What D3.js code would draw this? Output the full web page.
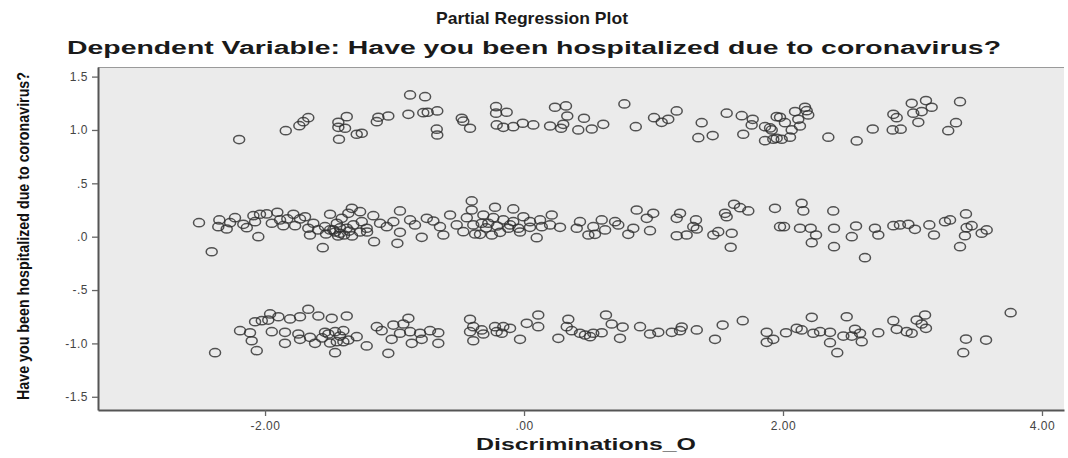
<!DOCTYPE html>
<html>
<head>
<meta charset="utf-8">
<script src="https://cdn.jsdelivr.net/npm/d3@7"></script>
<style>
  html, body { margin: 0; padding: 0; background: #ffffff; }
  svg { display: block; }
</style>
</head>
<body>
<svg id="chart" width="1068" height="458"></svg>
<script>
// ---------- DATA ----------
const chartTitle = "Partial Regression Plot";
const chartSubtitle = "Dependent Variable: Have you been hospitalized due to coronavirus?";
const xAxisLabel = "Discriminations_O";
const yAxisLabel = "Have you been hospitalized due to coronavirus?";

const xTicks = [-2, 0, 2, 4];
const xTickLabels = ["-2.00", ".00", "2.00", "4.00"];
const yTicks = [1.5, 1.0, 0.5, 0.0, -0.5, -1.0, -1.5];
const yTickLabels = ["1.5", "1.0", ".5", ".0", "-.5", "-1.0", "-1.5"];

// Band near +1 (hospitalized = yes residuals)
const upperX = [-2.20,-1.84,-1.735,-1.704,-1.666,-1.434,-1.434,-1.382,-1.369,-1.429,-1.292,-1.253,-1.137,-1.125,-1.048,-0.880,-0.764,-0.893,-0.778,-0.744,-0.670,-0.674,-0.670,-0.481,-0.469,-0.417,-0.216,-0.216,-0.134,-0.211,-0.160,-0.083,-0.010,0.072,0.201,0.239,0.324,0.334,0.303,0.286,0.419,0.463,0.523,0.612,0.775,0.863,1.004,1.063,1.114,1.179,1.372,1.346,1.457,1.565,1.681,1.693,1.766,1.758,1.861,1.913,1.861,1.951,1.951,1.900,1.977,1.925,1.990,2.054,2.015,2.067,2.093,2.118,2.131,2.170,2.183,2.195,2.350,2.569,2.693,2.852,2.878,2.847,2.909,2.994,3.104,3.006,3.071,3.148,3.045,3.276,3.336,3.367];
const upperY = [0.91,0.993,1.040,1.078,1.115,1.072,1.025,1.016,1.125,0.913,0.960,0.969,1.078,1.119,1.131,1.328,1.312,1.147,1.162,1.166,1.178,1.007,0.953,1.110,1.082,1.016,1.218,1.157,1.166,1.047,1.025,1.031,1.063,1.047,1.037,1.213,1.225,1.131,1.053,1.016,1.000,1.110,1.009,1.053,1.244,1.031,1.115,1.072,1.100,1.178,1.068,0.928,0.947,1.157,1.134,0.960,1.100,1.047,1.031,1.000,0.900,0.922,1.125,1.019,1.119,0.913,0.913,0.932,1.068,1.000,1.172,1.100,1.037,1.213,1.181,1.141,0.932,0.897,1.009,1.147,1.115,1.000,1.007,1.250,1.275,1.157,1.172,1.213,1.072,0.993,1.068,1.265];

// Band near 0
const middleX = [-2.510,-2.412,-2.353,-2.361,-2.296,-2.270,-2.232,-2.168,-2.141,-2.090,-2.077,-2.052,-2.039,-1.987,-1.948,-1.905,-1.884,-1.859,-1.828,-1.781,-1.768,-1.730,-1.691,-1.666,-1.653,-1.627,-1.554,-1.537,-1.498,-1.473,-1.446,-1.421,-1.408,-1.357,-1.330,-1.266,-1.369,-1.318,-1.253,-1.215,-1.164,-1.158,-1.112,-1.060,-1.009,-0.978,-0.958,-0.958,-0.880,-0.842,-0.790,-0.751,-0.700,-0.623,-0.649,-0.571,-0.520,-0.469,-0.442,-0.404,-0.404,-0.392,-0.378,-1.498,-1.459,-1.421,-1.390,-1.351,-1.436,-1.328,-1.529,-1.591,-1.266,-1.212,
  -0.224,-0.083,-0.314,-0.237,-0.327,-0.276,-0.160,-0.083,-0.005,0.046,0.124,0.214,-0.340,-0.249,-0.185,-0.121,-0.044,0.046,0.098,0.137,0.201,0.278,0.407,0.432,0.497,0.548,0.535,0.600,0.626,0.703,0.728,0.805,0.844,0.870,0.948,0.998,0.973,1.179,1.205,1.179,1.256,1.307,1.328,1.334,1.462,1.500,1.552,1.565,1.604,1.596,1.622,1.668,1.732,1.938,1.977,-0.293,-0.108,-0.031,-0.208,
  2.144,2.157,2.388,2.008,2.131,2.214,2.255,2.222,2.394,2.394,2.531,2.564,2.633,2.710,2.736,2.852,2.903,2.968,3.019,3.130,3.166,3.251,3.290,3.413,3.418,3.457,3.405,3.367,3.534,3.573];
const middleY = [0.131,-0.141,0.157,0.094,0.072,0.131,0.178,0.116,0.084,0.197,0.141,0.000,0.210,0.213,0.126,0.229,0.157,0.103,0.166,0.210,0.103,0.166,0.187,0.079,0.016,0.126,-0.103,0.094,0.210,0.063,0.126,0.032,0.172,0.219,0.266,0.234,0.079,0.110,0.141,0.079,0.197,-0.047,0.126,0.094,0.141,-0.062,0.241,0.041,0.157,0.110,-0.006,0.172,0.147,0.016,0.094,0.203,0.110,0.047,0.178,0.335,0.250,0.110,0.025,0.063,0.044,0.082,0.016,0.053,0.007,0.007,0.025,0.063,0.044,0.044,
  0.276,0.260,0.203,0.178,0.126,0.126,0.157,0.141,0.187,0.141,0.157,0.203,0.022,0.016,0.041,0.079,0.079,0.088,-0.009,0.094,0.110,0.088,0.079,0.141,0.016,0.022,0.094,0.157,0.063,0.141,0.110,0.022,0.079,0.250,0.172,0.219,0.056,0.172,0.219,0.009,0.016,0.094,0.157,0.072,0.016,0.047,0.219,0.187,0.032,-0.099,0.304,0.272,0.241,0.266,0.094,0.082,0.110,0.044,0.100,
  0.313,0.241,0.241,0.094,0.079,0.079,0.016,-0.056,0.079,-0.094,0.000,0.100,-0.197,0.079,0.016,0.103,0.110,0.116,0.069,0.110,0.016,0.141,0.157,0.213,0.084,0.103,0.009,-0.094,0.032,0.063];

// Band near -1
const lowerX = [-2.386,-2.193,-2.116,-2.103,-2.064,-2.077,-2.025,-1.975,-1.961,-1.948,-1.897,-1.846,-1.846,-1.807,-1.743,-1.730,-1.730,-1.666,-1.653,-1.614,-1.588,-1.537,-1.511,-1.485,-1.459,-1.459,-1.446,-1.395,-1.395,-1.369,-1.357,-1.292,-1.215,-1.137,-1.099,-1.048,-1.022,-1.009,-0.958,-0.932,-0.893,-0.880,-0.867,-0.803,-0.790,-0.726,-0.662,-0.662,-0.417,-0.417,-0.392,-0.392,-0.327,-0.314,-0.224,-0.211,-1.560,-1.421,-1.498,
  -0.160,-0.172,-0.108,-0.031,0.021,0.110,0.110,0.265,0.342,0.330,0.368,0.432,0.471,0.510,0.535,0.600,0.633,0.677,0.741,0.762,0.896,0.973,1.037,1.141,1.205,1.218,1.334,1.475,1.534,1.689,1.874,1.874,1.925,2.023,2.106,
  2.144,2.222,2.234,2.286,2.363,2.363,2.419,2.492,2.466,2.531,2.556,2.595,2.608,2.736,2.852,2.878,2.955,2.994,3.032,3.071,3.097,3.104,3.392,3.413,3.568,3.758];
const lowerY = [-1.087,-0.881,-0.900,-0.975,-1.068,-0.797,-0.787,-0.781,-0.724,-0.890,-0.750,-0.896,-0.999,-0.771,-0.912,-0.962,-0.750,-0.680,-0.943,-0.999,-0.743,-0.896,-0.912,-0.765,-0.890,-1.087,-0.984,-0.881,-0.984,-0.743,-0.968,-0.937,-1.024,-0.843,-0.881,-1.093,-0.962,-0.828,-0.905,-0.818,-0.765,-0.890,-0.999,-0.905,-0.962,-0.881,-0.900,-0.999,-0.774,-0.890,-0.843,-0.975,-0.874,-0.912,-0.843,-0.890,-0.949,-0.931,-0.996,
  -0.843,-0.905,-0.859,-0.962,-0.812,-0.734,-0.843,-0.952,-0.774,-0.843,-0.881,-0.905,-0.921,-0.937,-0.905,-0.900,-0.734,-0.818,-0.952,-0.847,-0.843,-0.912,-0.896,-0.896,-0.881,-0.847,-0.874,-0.962,-0.828,-0.787,-0.896,-0.990,-0.962,-0.900,-0.859,
  -0.874,-0.756,-0.905,-0.890,-0.896,-0.993,-1.087,-0.750,-0.931,-0.931,-0.868,-0.905,-0.984,-0.900,-0.787,-0.868,-0.890,-0.905,-0.781,-0.818,-0.734,-0.859,-1.087,-0.959,-0.969,-0.712];

// ---------- CHART ----------
const svg = d3.select("#chart");
const plot = { left: 98, right: 1064, top: 67, bottom: 410 };

const x = d3.scaleLinear().domain([-3.290, 4.170]).range([plot.left, plot.right]);
const y = d3.scaleLinear().domain([-1.624, 1.590]).range([plot.bottom, plot.top]);

// plot background
svg.append("rect")
  .attr("x", plot.left).attr("y", plot.top)
  .attr("width", plot.right - plot.left).attr("height", plot.bottom - plot.top)
  .attr("fill", "#ebebeb");

// top border line
svg.append("line")
  .attr("x1", plot.left).attr("x2", plot.right)
  .attr("y1", plot.top + 0.5).attr("y2", plot.top + 0.5)
  .attr("stroke", "#9a9a9a").attr("stroke-width", 1);

const font = "'Liberation Sans', Arial, sans-serif";

// x axis
const xAxis = d3.axisBottom(x).tickValues(xTicks).tickSize(6).tickSizeOuter(0)
  .tickFormat((d, i) => xTickLabels[i]);
const gx = svg.append("g").attr("transform", `translate(0,${plot.bottom})`).call(xAxis);
gx.select(".domain").attr("stroke", "#555").attr("stroke-width", 2);
gx.selectAll(".tick line").attr("stroke", "#666").attr("stroke-width", 1.3);
gx.selectAll(".tick text").attr("fill", "#444").attr("font-size", 12)
  .attr("font-family", font).attr("dy", "0.9em").attr("letter-spacing", 0.5);

// y axis
const yAxis = d3.axisLeft(y).tickValues(yTicks).tickSize(6).tickSizeOuter(0)
  .tickFormat((d, i) => yTickLabels[i]);
const gy = svg.append("g").attr("transform", `translate(${plot.left},0)`).call(yAxis);
gy.select(".domain").attr("stroke", "#555").attr("stroke-width", 2);
gy.selectAll(".tick line").attr("stroke", "#666").attr("stroke-width", 1.3);
gy.selectAll(".tick text").attr("fill", "#444").attr("font-size", 12)
  .attr("font-family", font).attr("x", -10).attr("letter-spacing", 0.5);

// points
const allPts = [];
[[upperX, upperY], [middleX, middleY], [lowerX, lowerY]].forEach(([xs, ys]) => {
  xs.forEach((v, i) => allPts.push({ x: v, y: ys[i] }));
});
svg.append("g").selectAll("ellipse").data(allPts).join("ellipse")
  .attr("cx", d => x(d.x)).attr("cy", d => y(d.y))
  .attr("rx", 5.5).attr("ry", 4.1)
  .attr("fill", "none")
  .attr("stroke", "#2e2e2e")
  .attr("stroke-opacity", 0.82)
  .attr("stroke-width", 1.5);

// titles
svg.append("text").attr("x", 532).attr("y", 24).attr("text-anchor", "middle")
  .attr("font-family", font).attr("font-weight", "bold").attr("font-size", 17)
  .attr("fill", "#1a1a1a")
  .attr("textLength", 192).attr("lengthAdjust", "spacingAndGlyphs")
  .text(chartTitle);
svg.append("text").attr("x", 534).attr("y", 54).attr("text-anchor", "middle")
  .attr("font-family", font).attr("font-weight", "bold").attr("font-size", 18)
  .attr("fill", "#1a1a1a")
  .attr("textLength", 934).attr("lengthAdjust", "spacingAndGlyphs")
  .text(chartSubtitle);

// x label
svg.append("text").attr("x", 586).attr("y", 450).attr("text-anchor", "middle")
  .attr("font-family", font).attr("font-weight", "bold").attr("font-size", 17)
  .attr("fill", "#1a1a1a")
  .attr("textLength", 220).attr("lengthAdjust", "spacingAndGlyphs")
  .text(xAxisLabel);

// y label
svg.append("text")
  .attr("transform", `translate(29,236) rotate(-90)`)
  .attr("text-anchor", "middle")
  .attr("font-family", "'Liberation Sans Narrow', 'Liberation Sans', Arial, sans-serif")
  .attr("font-weight", "bold").attr("font-size", 17)
  .attr("fill", "#111")
  .attr("textLength", 328).attr("lengthAdjust", "spacingAndGlyphs")
  .text(yAxisLabel);
</script>
</body>
</html>
